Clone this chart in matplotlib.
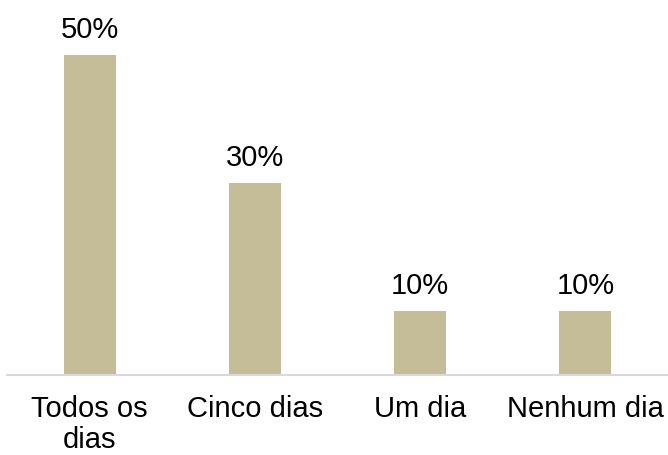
import matplotlib
import matplotlib.pyplot as plt

matplotlib.use("Agg")

categories = ["Todos os\ndias", "Cinco dias", "Um dia", "Nenhum dia"]
values = [50, 30, 10, 10]

BAR_COLOR = "#C4BD97"

plt.rcParams["font.family"] = ["Liberation Sans", "DejaVu Sans"]

fig = plt.figure(figsize=(6.68, 4.56), dpi=100)
# axes spans the full baseline width; bottom at the baseline
ax = fig.add_axes([7 / 668, 80 / 456, 661 / 668, 352 / 456])

x = range(len(categories))
bars = ax.bar(x, values, width=0.314, color=BAR_COLOR, zorder=2)

for rect, v in zip(bars, values):
    ax.annotate(
        f"{v}%",
        (rect.get_x() + rect.get_width() / 2, v),
        xytext=(0, 13.2),
        textcoords="offset points",
        ha="center",
        va="baseline",
        fontsize=21,
        color="#000000",
    )

ax.set_xlim(-0.5, 3.5)
ax.set_ylim(0, 55)
ax.set_xticks(list(x))
ax.set_xticklabels(categories, fontsize=21, linespacing=1.1)
ax.tick_params(axis="x", length=0, pad=14)
ax.set_yticks([])
for side in ["top", "right", "left"]:
    ax.spines[side].set_visible(False)
ax.spines["bottom"].set_color("#D9D9D9")
ax.spines["bottom"].set_linewidth(1.5)

fig.savefig("out.png", dpi=100)
